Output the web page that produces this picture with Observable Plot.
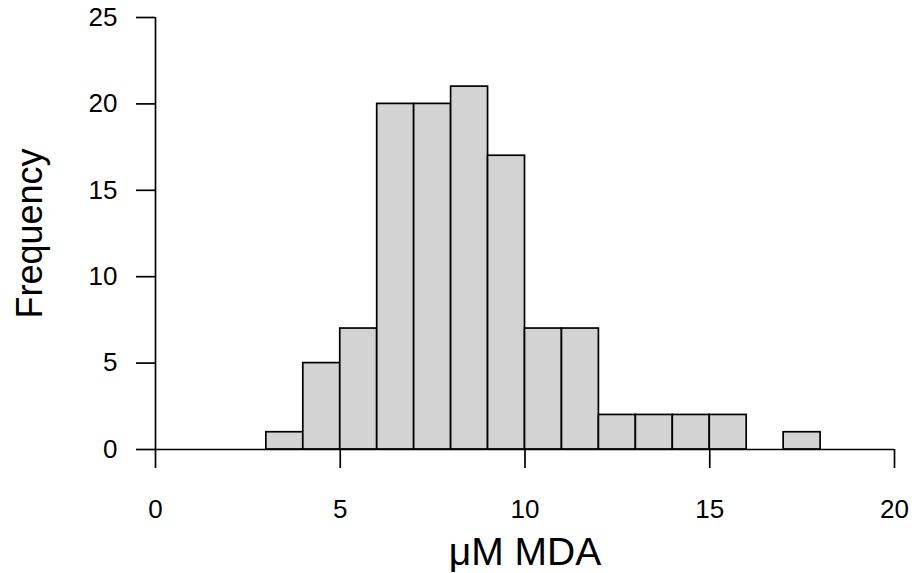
<!DOCTYPE html>
<html>
<head>
<meta charset="utf-8">
<script src="https://cdn.jsdelivr.net/npm/d3@7"></script>
<script src="https://cdn.jsdelivr.net/npm/@observablehq/plot@0.6"></script>
<style>
  html, body { margin: 0; padding: 0; background: #fff; }
  svg { display: block; }
</style>
</head>
<body>
<div id="chart"></div>
<script>
const binStarts = [3, 4, 5, 6, 7, 8, 9, 10, 11, 12, 13, 14, 15, 16, 17];
const binWidth = 1;
const counts = [1, 5, 7, 20, 20, 21, 17, 7, 7, 2, 2, 2, 2, 0, 1];
const xTicks = [0, 5, 10, 15, 20];
const yTicks = [0, 5, 10, 15, 20, 25];
const xTitle = "μM MDA";
const yTitle = "Frequency";

const bins = binStarts.map((s, i) => ({x1: s, x2: s + binWidth, count: counts[i]}));

const font = "'Liberation Sans', Arial, Helvetica, sans-serif";

const chart = Plot.plot({
  width: 917,
  height: 573,
  marginLeft: 155,
  marginRight: 23,
  marginTop: 17,
  marginBottom: 124,
  style: {fontFamily: font, fontSize: "26px", background: "white", color: "black"},
  x: {domain: [0, 20]},
  y: {domain: [0, 25]},
  marks: [
    Plot.rectY(bins, {x1: "x1", x2: "x2", y: "count", fill: "#d3d3d3", stroke: "black", strokeWidth: 1.7, inset: 0}),
    Plot.ruleY([0], {x1: xTicks[0], x2: xTicks[xTicks.length - 1], stroke: "black", strokeWidth: 1.7}),
    Plot.ruleX([0], {y1: yTicks[0], y2: yTicks[yTicks.length - 1], stroke: "black", strokeWidth: 1.7}),
    Plot.axisY({ticks: yTicks, tickSize: 19, tickPadding: 19, fontSize: 26, label: null, strokeWidth: 1.7, tickFormat: d => String(d)}),
    Plot.axisX({ticks: xTicks, tickSize: 19, tickPadding: 31, fontSize: 26, label: null, strokeWidth: 1.7, tickFormat: d => String(d)}),
    Plot.text([xTitle], {frameAnchor: "bottom", dy: 103, fontSize: 39, lineAnchor: "middle", textAnchor: "middle", fill: "black"}),
    Plot.text([yTitle], {frameAnchor: "left", dx: -125, rotate: -90, fontSize: 36, lineAnchor: "middle", textAnchor: "middle", fill: "black"})
  ]
});
document.getElementById("chart").appendChild(chart);
</script>
</body>
</html>
